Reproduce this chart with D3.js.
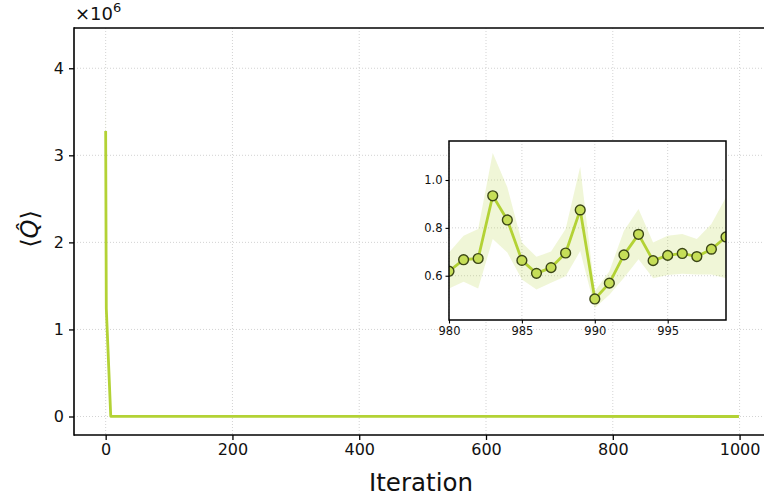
<!DOCTYPE html>
<html>
<head>
<meta charset="utf-8">
<script src="https://cdn.jsdelivr.net/npm/d3@7"></script>
<style>
  html, body { margin: 0; padding: 0; background: #fff; }
  svg { display: block; font-family: "DejaVu Sans", sans-serif; }
</style>
</head>
<body>
<svg id="chart" width="764" height="499"></svg>
<script>
// Early iterations of the run (the transient)
const earlyIter  = [0, 1, 8];
const earlyMean  = [3.28e6, 1.24e6, 0.003e6];
const earlyUpper = [4.25e6, 1.30e6, 0.005e6];
const earlyLower = [2.31e6, 1.18e6, 0.001e6];

// Final iterations (also shown in the zoomed inset)
const tailIter  = [980, 981, 982, 983, 984, 985, 986, 987, 988, 989,
                   990, 991, 992, 993, 994, 995, 996, 997, 998, 999];
const tailMean  = [0.619, 0.667, 0.672, 0.934, 0.833, 0.664, 0.610, 0.634, 0.695, 0.875,
                   0.503, 0.569, 0.687, 0.773, 0.663, 0.685, 0.693, 0.680, 0.711, 0.762];
const tailUpper = [0.697, 0.767, 0.795, 1.113, 0.970, 0.739, 0.679, 0.701, 0.795, 1.055,
                   0.535, 0.619, 0.788, 0.879, 0.739, 0.767, 0.774, 0.753, 0.816, 0.928];
const tailLower = [0.547, 0.575, 0.547, 0.753, 0.697, 0.584, 0.542, 0.571, 0.598, 0.703,
                   0.465, 0.521, 0.592, 0.669, 0.589, 0.603, 0.608, 0.605, 0.605, 0.589];

const mainXTicks  = [0, 200, 400, 600, 800, 1000];
const mainYTicks  = [0, 1e6, 2e6, 3e6, 4e6];
const insetXTicks = [980, 985, 990, 995];
const insetYTicks = [0.6, 0.8, 1.0];

const LINE = "#b3d235";
const BAND = "#b3d235";
const MARK_FILL = "#c6de58";
const MARK_EDGE = "#3b4616";
const GRID = "#c8c8c8";

const iter  = earlyIter.concat(tailIter);
const mean  = earlyMean.concat(tailMean);
const upper = earlyUpper.concat(tailUpper);
const lower = earlyLower.concat(tailLower);
const rows = iter.map((x, i) => ({x, m: mean[i], lo: lower[i], hi: upper[i]}));
const tailRows = tailIter.map((x, i) => ({x, m: tailMean[i], lo: tailLower[i], hi: tailUpper[i]}));

const svg = d3.select("#chart");

// ---------- main axes ----------
const M = {left: 74, top: 28, bottom: 435};
const xPad = (999 - 0) * 0.05;
const x = d3.scaleLinear().domain([0 - xPad, 999 + xPad]).range([M.left, 770.6]);
const yLo = d3.min(lower), yHi = d3.max(upper);
const yPad = (yHi - yLo) * 0.05;
const y = d3.scaleLinear().domain([yLo - yPad, yHi + yPad]).range([M.bottom, M.top]);

const defs = svg.append("defs");
defs.append("clipPath").attr("id", "mainClip")
  .append("rect").attr("x", M.left).attr("y", M.top)
  .attr("width", 770.6 - M.left).attr("height", M.bottom - M.top);

const grid = svg.append("g");
grid.selectAll("line.v").data(mainXTicks).join("line")
  .attr("x1", d => x(d)).attr("x2", d => x(d))
  .attr("y1", M.top).attr("y2", M.bottom)
  .attr("stroke", GRID).attr("stroke-width", 0.8).attr("stroke-dasharray", "1,2");
grid.selectAll("line.h").data(mainYTicks).join("line")
  .attr("y1", d => y(d)).attr("y2", d => y(d))
  .attr("x1", M.left).attr("x2", 770.6)
  .attr("stroke", GRID).attr("stroke-width", 0.8).attr("stroke-dasharray", "1,2");

const plot = svg.append("g").attr("clip-path", "url(#mainClip)");
plot.append("path").datum(rows)
  .attr("fill", BAND).attr("fill-opacity", 0.2)
  .attr("d", d3.area().x(d => x(d.x)).y0(d => y(d.lo)).y1(d => y(d.hi)));
plot.append("path").datum(rows)
  .attr("fill", "none").attr("stroke", LINE).attr("stroke-width", 2.8)
  .attr("stroke-linejoin", "round")
  .attr("d", d3.line().x(d => x(d.x)).y(d => y(d.m)));

// axes
const xAxis = d3.axisBottom(x).tickValues(mainXTicks).tickSize(5).tickPadding(4)
  .tickFormat(d3.format("d"));
const gx = svg.append("g").attr("transform", `translate(0,${M.bottom})`).call(xAxis);
gx.select(".domain").remove();
gx.selectAll(".tick line").attr("stroke", "#000").attr("stroke-width", 1.3);
gx.selectAll(".tick text").attr("font-size", 16).attr("fill", "#111")
  .attr("font-family", "DejaVu Sans");

const yAxis = d3.axisLeft(y).tickValues(mainYTicks).tickSize(5).tickPadding(5)
  .tickFormat(d => d3.format("d")(d / 1e6));
const gy = svg.append("g").attr("transform", `translate(${M.left},0)`).call(yAxis);
gy.select(".domain").remove();
gy.selectAll(".tick line").attr("stroke", "#000").attr("stroke-width", 1.3);
gy.selectAll(".tick text").attr("font-size", 16).attr("fill", "#111")
  .attr("font-family", "DejaVu Sans");

// spines: left, top, bottom (right edge lies past the canvas)
const sp = svg.append("g").attr("stroke", "#000").attr("stroke-width", 1.6);
sp.append("line").attr("x1", M.left).attr("x2", M.left).attr("y1", M.top - 0.8).attr("y2", M.bottom + 0.8);
sp.append("line").attr("x1", M.left).attr("x2", 770.6).attr("y1", M.top).attr("y2", M.top);
sp.append("line").attr("x1", M.left).attr("x2", 770.6).attr("y1", M.bottom).attr("y2", M.bottom);

// offset label
const off = svg.append("text").attr("x", 75).attr("y", 20)
  .attr("font-size", 18).attr("fill", "#111");
off.append("tspan").text("×10");
off.append("tspan").attr("dy", -8).attr("font-size", 13).text("6");

// axis labels
svg.append("text").attr("x", 421).attr("y", 491)
  .attr("text-anchor", "middle").attr("font-size", 24.5).attr("fill", "#111")
  .text("Iteration");

const yl = svg.append("text")
  .attr("transform", "translate(38,229) rotate(-90)")
  .attr("text-anchor", "middle").attr("font-size", 24).attr("fill", "#111");
yl.append("tspan").text("⟨");
yl.append("tspan").attr("font-style", "italic").text("Q\u0302");
yl.append("tspan").text("⟩");

// ---------- inset ----------
const I = {left: 449, right: 726, top: 141, bottom: 320};
const ix = d3.scaleLinear().domain([980, 999]).range([I.left, I.right]);
const iy = d3.scaleLinear()
  .domain([d3.min(tailLower) - 0.05, d3.max(tailUpper) + 0.05])
  .range([I.bottom, I.top]);

const inset = svg.append("g");
inset.append("rect").attr("x", I.left).attr("y", I.top)
  .attr("width", I.right - I.left).attr("height", I.bottom - I.top).attr("fill", "#fff");

defs.append("clipPath").attr("id", "insetClip")
  .append("rect").attr("x", I.left).attr("y", I.top)
  .attr("width", I.right - I.left).attr("height", I.bottom - I.top);

const ig = inset.append("g");
ig.selectAll("line.v").data(insetXTicks).join("line")
  .attr("x1", d => ix(d)).attr("x2", d => ix(d)).attr("y1", I.top).attr("y2", I.bottom)
  .attr("stroke", GRID).attr("stroke-width", 0.8).attr("stroke-dasharray", "1,2");
ig.selectAll("line.h").data(insetYTicks).join("line")
  .attr("y1", d => iy(d)).attr("y2", d => iy(d)).attr("x1", I.left).attr("x2", I.right)
  .attr("stroke", GRID).attr("stroke-width", 0.8).attr("stroke-dasharray", "1,2");

const ip = inset.append("g").attr("clip-path", "url(#insetClip)");
ip.append("path").datum(tailRows)
  .attr("fill", BAND).attr("fill-opacity", 0.2)
  .attr("d", d3.area().x(d => ix(d.x)).y0(d => iy(d.lo)).y1(d => iy(d.hi)));
ip.append("path").datum(tailRows)
  .attr("fill", "none").attr("stroke", LINE).attr("stroke-width", 2.8)
  .attr("stroke-linejoin", "round")
  .attr("d", d3.line().x(d => ix(d.x)).y(d => iy(d.m)));
ip.selectAll("circle").data(tailRows).join("circle")
  .attr("cx", d => ix(d.x)).attr("cy", d => iy(d.m)).attr("r", 4.9)
  .attr("fill", MARK_FILL).attr("stroke", MARK_EDGE).attr("stroke-width", 1.4);

const ixAxis = d3.axisBottom(ix).tickValues(insetXTicks).tickSize(3.5).tickPadding(3)
  .tickFormat(d3.format("d"));
const gix = inset.append("g").attr("transform", `translate(0,${I.bottom})`).call(ixAxis);
gix.select(".domain").remove();
gix.selectAll(".tick line").attr("stroke", "#000").attr("stroke-width", 1.1);
gix.selectAll(".tick text").attr("font-size", 11.5).attr("fill", "#111")
  .attr("font-family", "DejaVu Sans");

const iyAxis = d3.axisLeft(iy).tickValues(insetYTicks).tickSize(3.5).tickPadding(3)
  .tickFormat(d3.format(".1f"));
const giy = inset.append("g").attr("transform", `translate(${I.left},0)`).call(iyAxis);
giy.select(".domain").remove();
giy.selectAll(".tick line").attr("stroke", "#000").attr("stroke-width", 1.1);
giy.selectAll(".tick text").attr("font-size", 11.5).attr("fill", "#111")
  .attr("font-family", "DejaVu Sans");

inset.append("rect").attr("x", I.left).attr("y", I.top)
  .attr("width", I.right - I.left).attr("height", I.bottom - I.top)
  .attr("fill", "none").attr("stroke", "#000").attr("stroke-width", 1.5);
</script>
</body>
</html>
